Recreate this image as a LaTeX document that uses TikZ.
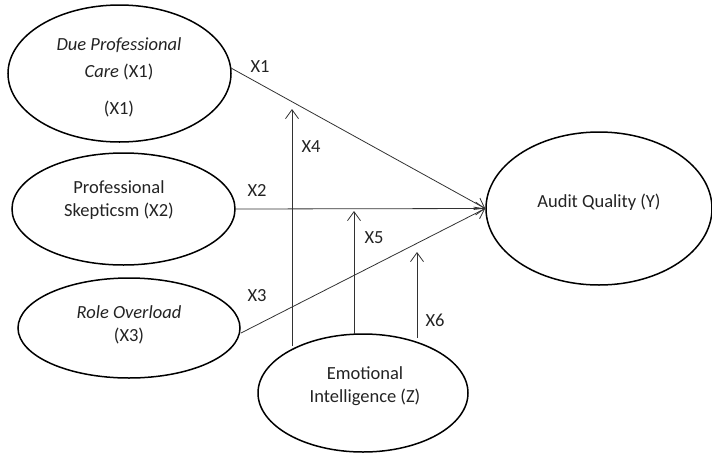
\documentclass[tikz,border=0pt]{standalone}
\usepackage{fontspec}
\setmainfont{Carlito}
\usetikzlibrary{arrows.meta,shapes.geometric}
\definecolor{txtc}{RGB}{35,35,35}
\definecolor{linec}{RGB}{50,50,50}
\begin{document}
\begin{tikzpicture}[x=1pt,y=-1pt,
  var/.style={ellipse,draw=black,line width=1.5pt,inner sep=0pt},
  txt/.style={text=txtc,font=\fontsize{18.5}{23}\selectfont,align=center,inner sep=0pt},
  conn/.style={draw=linec,line width=0.8pt,-{Straight Barb[length=9pt,width=13pt]}},
  lab/.style={text=txtc,font=\fontsize{18.5}{23}\selectfont,inner sep=0pt}]
\useasboundingbox (0,0) rectangle (712,453);
% ellipses
\node[var,minimum width=223pt,minimum height=137pt] (x1) at (119.5,73.5) {};
\node[var,minimum width=223pt,minimum height=112pt] (x2) at (123.5,209) {};
\node[var,minimum width=222pt,minimum height=100pt] (x3) at (129,328) {};
\node[var,minimum width=226pt,minimum height=153pt] (aq) at (599,208.5) {};
\node[var,minimum width=210pt,minimum height=118pt] (ei) at (363,393) {};
% texts
\node[txt] (t1a) at (119,45) {\textit{Due Professional}};
\node[txt] (t1b) at (119,72) {\textit{Care} (X1)};
\node[txt] (t1c) at (119,109) {(X1)};
\node[txt] (t2) at (119,200.5) {Professional\\Skepticsm (X2)};
\node[txt] (t3) at (129,325) {\textit{Role Overload}\\(X3)};
\node[txt] (t4) at (599,202) {Audit Quality (Y)};
\node[txt] (t5) at (365,386) {Emotional\\Intelligence (Z)};
% coordinates for moderator arrows
\coordinate (s1) at (231,68);
\coordinate (s3) at (241,333);
\coordinate (b4) at (292,346);
\coordinate (t4c) at (292,109);
\coordinate (b5) at (354,334);
\coordinate (t5c) at (354,211);
\coordinate (b6) at (417,338);
\coordinate (t6c) at (417,252);
% connectors
\draw[conn] (s1) -- (aq.west);
\draw[conn] (x2.east) -- (aq.west);
\draw[conn] (s3) -- (aq.west);
\draw[conn] (b4) -- (t4c);
\draw[conn] (b5) -- (t5c);
\draw[conn] (b6) -- (t6c);
% labels
\node[lab] (l1) at (260,67) {X1};
\node[lab] (l2) at (257,190) {X2};
\node[lab] (l3) at (257,296) {X3};
\node[lab] (l4) at (311,147) {X4};
\node[lab] (l5) at (374,238) {X5};
\node[lab] (l6) at (435,320) {X6};
\end{tikzpicture}
\end{document}
